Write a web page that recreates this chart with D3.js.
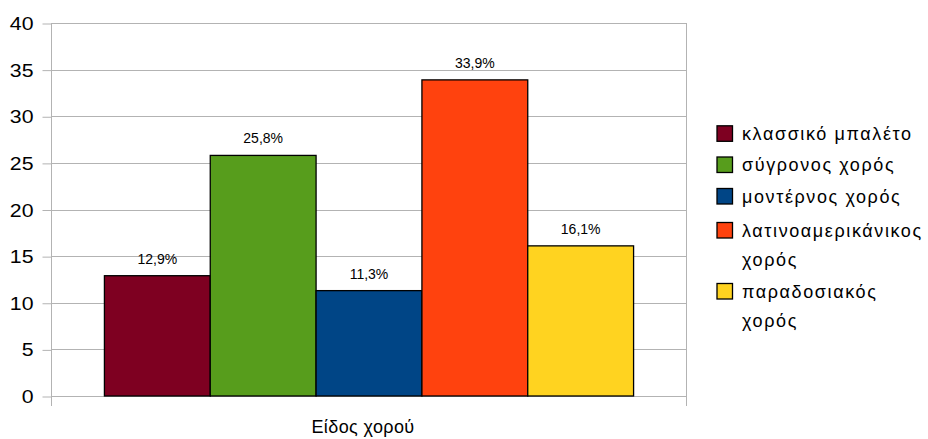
<!DOCTYPE html>
<html><head><meta charset="utf-8">
<script src="https://cdn.jsdelivr.net/npm/d3@7/dist/d3.min.js"></script>
<style>
html,body{margin:0;padding:0;background:#fff;}
svg{display:block;font-family:"Liberation Sans",Arial,sans-serif;}
</style>
</head><body>
<svg id="chart" width="928" height="439"></svg>
<script>
const category = ["Είδος χορού"];
const seriesNames = ["κλασσικό μπαλέτο","σύγρονος χορός","μοντέρνος χορός","λατινοαμερικάνικος χορός","παραδοσιακός χορός"];
const legendLines = [["κλασσικό μπαλέτο"],["σύγρονος χορός"],["μοντέρνος χορός"],["λατινοαμερικάνικος","χορός"],["παραδοσιακός","χορός"]];
const values = [12.9, 25.8, 11.3, 33.9, 16.1];
const valueLabels = ["12,9%","25,8%","11,3%","33,9%","16,1%"];
const colors = ["#7E0021","#579D1C","#004586","#FF420E","#FFD320"];
const yTicks = [0,5,10,15,20,25,30,35,40];

const svg = d3.select("#chart");
const L = 51.5, R = 686.5, T = 23, B = 396;

const y = d3.scaleLinear().domain([0,40]).range([B,T]);
const x0 = d3.scaleBand().domain(category).range([L,R]).paddingInner(0).paddingOuter(0.1);
const x1 = d3.scaleBand().domain(seriesNames).range([0,x0.bandwidth()]);

// gridlines
svg.append("g").selectAll("line").data(yTicks).join("line")
  .attr("x1",L).attr("x2",R)
  .attr("y1",d=>Math.round(y(d))+0.5).attr("y2",d=>Math.round(y(d))+0.5)
  .attr("stroke","#b3b3b3").attr("stroke-width",1);

// right border
svg.append("line").attr("x1",R).attr("x2",R).attr("y1",y(40)).attr("y2",B+10)
  .attr("stroke","#b3b3b3");

// y axis
const yAxis = d3.axisLeft(y).tickValues(yTicks).tickSize(9).tickPadding(0).tickFormat(d3.format("d"));
const gy = svg.append("g").attr("transform",`translate(${L},0.5)`).call(yAxis);
gy.select(".domain").remove();
gy.selectAll(".tick line").attr("stroke","#b3b3b3");
gy.selectAll(".tick text").attr("font-size",19).attr("fill","#000")
  .attr("font-family","Liberation Sans, Arial, sans-serif")
  .attr("x",0).attr("text-anchor","end")
  .attr("transform","translate(-18,0) scale(1.12,1)");
svg.append("line").attr("x1",L).attr("x2",L).attr("y1",y(40)).attr("y2",B+10).attr("stroke","#b3b3b3");

// bars
const g = svg.append("g").attr("transform",`translate(${x0(category[0])},0)`);
g.selectAll("rect").data(values).join("rect")
  .attr("x",(d,i)=>x1(seriesNames[i]))
  .attr("y",d=>y(d))
  .attr("width",x1.bandwidth())
  .attr("height",d=>B-y(d))
  .attr("fill",(d,i)=>colors[i])
  .attr("stroke","#000").attr("stroke-width",1.3);

g.selectAll("text").data(values).join("text")
  .attr("x",(d,i)=>x1(seriesNames[i])+x1.bandwidth()/2)
  .attr("y",d=>y(d)-12)
  .attr("text-anchor","middle").attr("font-size",14).attr("fill","#000")
  .text((d,i)=>valueLabels[i]);

// x axis title
svg.append("text").attr("x",363).attr("y",433).attr("text-anchor","middle")
  .attr("font-size",18).attr("fill","#000").attr("letter-spacing","0.4px").text(category[0]);

// legend
const lg = svg.append("g");
const entryY = [133.3, 164.5, 196, 230, 291];
const lineH = 29.5;
legendLines.forEach((lines,i)=>{
  const cy = entryY[i];
  lg.append("rect").attr("x",717).attr("y",cy-7.5).attr("width",15.5).attr("height",15.5)
    .attr("fill",colors[i]).attr("stroke","#000").attr("stroke-width",1.3);
  lines.forEach((t,j)=>{
    lg.append("text").attr("x",742).attr("y",cy + j*lineH + 6.5)
      .attr("font-size",18).attr("fill","#000").attr("letter-spacing","1.6px").text(t);
  });
});
</script>
</body></html>
